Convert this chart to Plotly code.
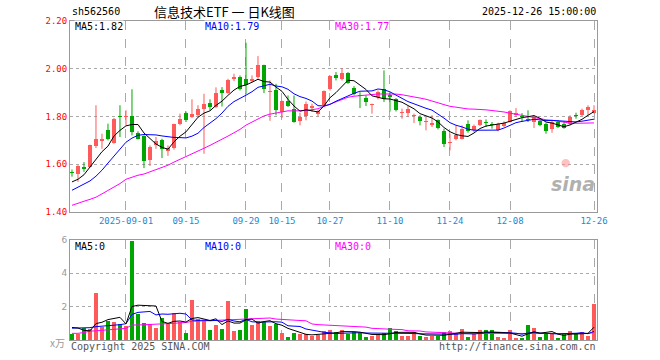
import plotly.graph_objects as go

# ---------------- data ----------------
dates = [
    "2025-08-19", "2025-08-20", "2025-08-21", "2025-08-22", "2025-08-25", "2025-08-26", "2025-08-27", "2025-08-28", "2025-08-29",
    "2025-09-01", "2025-09-02", "2025-09-03", "2025-09-04", "2025-09-05", "2025-09-08", "2025-09-09", "2025-09-10", "2025-09-11",
    "2025-09-12", "2025-09-15", "2025-09-16", "2025-09-17", "2025-09-18", "2025-09-19", "2025-09-22", "2025-09-23", "2025-09-24",
    "2025-09-25", "2025-09-26", "2025-09-29", "2025-09-30", "2025-10-09", "2025-10-10", "2025-10-13", "2025-10-14", "2025-10-15",
    "2025-10-16", "2025-10-17", "2025-10-20", "2025-10-21", "2025-10-22", "2025-10-23", "2025-10-24", "2025-10-27", "2025-10-28",
    "2025-10-29", "2025-10-30", "2025-10-31", "2025-11-03", "2025-11-04", "2025-11-05", "2025-11-06", "2025-11-07", "2025-11-10",
    "2025-11-11", "2025-11-12", "2025-11-13", "2025-11-14", "2025-11-17", "2025-11-18", "2025-11-19", "2025-11-20", "2025-11-21",
    "2025-11-24", "2025-11-25", "2025-11-26", "2025-11-27", "2025-11-28", "2025-12-01", "2025-12-02", "2025-12-03", "2025-12-04",
    "2025-12-05", "2025-12-08", "2025-12-09", "2025-12-10", "2025-12-11", "2025-12-12", "2025-12-15", "2025-12-16", "2025-12-17",
    "2025-12-18", "2025-12-19", "2025-12-22", "2025-12-23", "2025-12-24", "2025-12-25", "2025-12-26",
]

open_ = [
    1.566, 1.561, 1.589, 1.589, 1.676, 1.697, 1.742, 1.690, 1.800,
    1.799, 1.802, 1.731, 1.717, 1.617, 1.679, 1.700, 1.654, 1.668,
    1.767, 1.816, 1.798, 1.808, 1.830, 1.856, 1.838, 1.912, 1.900,
    1.955, 1.965, 1.958, 1.947, 1.965, 2.014, 1.902, 1.909, 1.818,
    1.865, 1.833, 1.780, 1.802, 1.835, 1.812, 1.847, 1.914, 1.972,
    1.958, 1.983, 1.919, 1.891, 1.877, 1.849, 1.881, 1.914, 1.888,
    1.872, 1.814, 1.816, 1.801, 1.800, 1.776, 1.763, 1.784, 1.738,
    1.689, 1.704, 1.707, 1.770, 1.742, 1.763, 1.775, 1.767, 1.742,
    1.760, 1.777, 1.808, 1.801, 1.788, 1.777, 1.780, 1.767, 1.749,
    1.777, 1.767, 1.767, 1.806, 1.808, 1.826, 1.816,
]
high = [
    1.578, 1.596, 1.609, 1.682, 1.847, 1.728, 1.770, 1.794, 1.847,
    1.826, 1.914, 1.738, 1.721, 1.679, 1.714, 1.707, 1.679, 1.770,
    1.812, 1.821, 1.872, 1.847, 1.895, 1.872, 1.922, 1.923, 1.958,
    1.979, 1.972, 2.109, 1.972, 2.053, 2.017, 1.951, 1.937, 1.867,
    1.888, 1.888, 1.816, 1.863, 1.854, 1.828, 1.909, 1.972, 1.986,
    2.003, 1.986, 1.927, 1.902, 1.888, 1.854, 1.909, 1.993, 1.902,
    1.877, 1.833, 1.844, 1.812, 1.805, 1.798, 1.805, 1.788, 1.749,
    1.728, 1.763, 1.763, 1.784, 1.766, 1.788, 1.788, 1.777, 1.774,
    1.780, 1.826, 1.835, 1.814, 1.826, 1.802, 1.784, 1.774, 1.784,
    1.784, 1.780, 1.805, 1.816, 1.833, 1.847, 1.847,
]
low = [
    1.548, 1.526, 1.568, 1.586, 1.668, 1.665, 1.700, 1.686, 1.714,
    1.763, 1.721, 1.704, 1.584, 1.593, 1.665, 1.626, 1.635, 1.661,
    1.763, 1.777, 1.794, 1.802, 1.644, 1.826, 1.835, 1.842, 1.895,
    1.948, 1.909, 1.895, 1.944, 1.958, 1.898, 1.782, 1.805, 1.794,
    1.840, 1.774, 1.763, 1.784, 1.819, 1.800, 1.840, 1.909, 1.951,
    1.951, 1.937, 1.888, 1.835, 1.844, 1.812, 1.872, 1.861, 1.821,
    1.821, 1.791, 1.798, 1.773, 1.763, 1.742, 1.756, 1.746, 1.672,
    1.658, 1.700, 1.704, 1.732, 1.735, 1.760, 1.756, 1.749, 1.738,
    1.756, 1.774, 1.798, 1.777, 1.777, 1.752, 1.759, 1.728, 1.732,
    1.752, 1.749, 1.763, 1.791, 1.802, 1.805, 1.812,
]
close = [
    1.562, 1.591, 1.579, 1.679, 1.707, 1.707, 1.707, 1.791, 1.797,
    1.802, 1.735, 1.707, 1.614, 1.672, 1.696, 1.665, 1.668, 1.767,
    1.791, 1.787, 1.809, 1.830, 1.854, 1.839, 1.900, 1.898, 1.951,
    1.965, 1.916, 1.930, 1.955, 2.014, 1.916, 1.906, 1.826, 1.865,
    1.846, 1.777, 1.798, 1.854, 1.844, 1.821, 1.905, 1.969, 1.961,
    1.983, 1.941, 1.895, 1.886, 1.861, 1.850, 1.902, 1.872, 1.881,
    1.828, 1.816, 1.833, 1.803, 1.780, 1.778, 1.774, 1.752, 1.686,
    1.691, 1.721, 1.746, 1.738, 1.759, 1.784, 1.773, 1.765, 1.767,
    1.773, 1.821, 1.816, 1.799, 1.786, 1.798, 1.763, 1.738, 1.777,
    1.756, 1.752, 1.800, 1.804, 1.829, 1.840, 1.829,
]
volume = [  # x 10,000
    0.36, 0.36, 0.72, 0.66, 2.82, 0.76, 1.16, 1.10, 0.96,
    0.86, 5.96, 1.56, 1.00, 0.96, 0.72, 1.32, 1.00, 1.60,
    1.06, 0.40, 2.40, 1.26, 1.20, 0.60, 0.90, 0.66, 2.36,
    0.56, 0.60, 1.86, 0.90, 1.12, 1.06, 0.86, 0.96, 0.42,
    0.18, 0.40, 0.36, 0.34, 0.26, 0.32, 0.52, 0.58, 0.46,
    0.63, 0.37, 0.46, 0.43, 0.17, 0.23, 0.35, 0.41, 0.73,
    0.55, 0.26, 0.26, 0.50, 0.26, 0.20, 0.26, 0.22, 0.48,
    0.55, 0.42, 0.67, 0.18, 0.36, 0.60, 0.60, 0.60, 0.18,
    0.12, 0.60, 0.12, 0.12, 0.90, 0.73, 0.18, 0.36, 0.36,
    0.12, 0.36, 0.55, 0.36, 0.48, 0.26, 2.18,
]

# moving-average values at the start of the window (history before the first bar)
ma5_head = [1.526, 1.537, 1.556, 1.589]
ma10_head = [1.491, 1.503, 1.515, 1.530, 1.550, 1.575, 1.605, 1.635, 1.665]
ma30_head = [1.428, 1.435, 1.445, 1.453, 1.462, 1.476, 1.490, 1.505, 1.519, 1.537,
             1.547, 1.554, 1.559, 1.568, 1.576, 1.584, 1.596, 1.609, 1.620, 1.632,
             1.643, 1.655, 1.667, 1.679, 1.691, 1.704, 1.718, 1.732, 1.746]
vma5_head = [0.75, 0.72, 0.58, 0.55]
vma10_head = [0.71, 0.71, 0.72, 0.74, 0.80, 0.82, 0.85, 0.88, 0.92]
vma30_head = [0.40, 0.40, 0.45, 0.53, 0.55, 0.57, 0.62, 0.65, 0.67, 0.70,
              0.90, 0.90, 0.91, 0.93, 0.95, 0.95, 0.97, 1.00, 1.03, 1.05,
              1.12, 1.13, 1.14, 1.16, 1.18, 1.19, 1.21, 1.22, 1.24]

tick_dates = ["2025-09-01", "2025-09-15", "2025-09-29", "2025-10-15", "2025-10-27",
              "2025-11-10", "2025-11-24", "2025-12-08", "2025-12-26"]
tick_text = ["2025-09-01", "09-15", "09-29", "10-15", "10-27", "11-10", "11-24", "12-08", "12-26"]
price_ticks = [1.40, 1.60, 1.80, 2.00, 2.20]
vol_ticks = [0, 2, 4, 6]


def moving_average(values, n, head):
    out = list(head)
    for i in range(len(head), len(values)):
        out.append(sum(values[i - n + 1:i + 1]) / n)
    return out


ma5 = moving_average(close, 5, ma5_head)
ma10 = moving_average(close, 10, ma10_head)
ma30 = moving_average(close, 30, ma30_head)
vma5 = moving_average(volume, 5, vma5_head)
vma10 = moving_average(volume, 10, vma10_head)
vma30 = moving_average(volume, 30, vma30_head)

# ---------------- styling ----------------
UP = "#ff5a5a"
DOWN = "#00a600"
GRID = "#aaaaaa"
FRAME = "#9a9a9a"
MONO = "DejaVu Sans Mono"

up = [c >= o for o, c in zip(open_, close)]
body_base = [min(o, c) for o, c in zip(open_, close)]
body_h = [max(abs(c - o), 0.0035) for o, c in zip(open_, close)]
bar_colors = [UP if u else DOWN for u in up]

fig = go.Figure()


def wick_xy(flag):
    xs, ys = [], []
    for d, h, l, u in zip(dates, high, low, up):
        if u == flag:
            xs += [d, d, None]
            ys += [l, h, None]
    return xs, ys


for flag, col in ((True, UP), (False, DOWN)):
    wx, wy = wick_xy(flag)
    fig.add_trace(go.Scatter(x=wx, y=wy, mode="lines", line=dict(color=col, width=1),
                             hoverinfo="skip", showlegend=False, xaxis="x", yaxis="y"))

fig.add_trace(go.Bar(x=dates, y=body_h, base=body_base, marker=dict(color=bar_colors, line=dict(width=0)),
                     width=0.78, showlegend=False, hoverinfo="skip", xaxis="x", yaxis="y"))

for vals, col in ((ma30, "#ff00ff"), (ma10, "#0000ff"), (ma5, "#000000")):
    fig.add_trace(go.Scatter(x=dates, y=vals, mode="lines", line=dict(color=col, width=1),
                             hoverinfo="skip", showlegend=False, xaxis="x", yaxis="y"))

fig.add_trace(go.Bar(x=dates, y=volume, marker=dict(color=bar_colors, line=dict(width=0)),
                     width=0.78, showlegend=False, hoverinfo="skip", xaxis="x2", yaxis="y2"))
for vals, col in ((vma30, "#ff00ff"), (vma10, "#0000ff"), (vma5, "#000000")):
    fig.add_trace(go.Scatter(x=dates, y=vals, mode="lines", line=dict(color=col, width=1),
                             hoverinfo="skip", showlegend=False, xaxis="x2", yaxis="y2"))

# layout geometry (pixels -> paper)
W, H = 660, 360
ML, MR, MT, MB = 70, 63, 21, 20
PW, PH = W - ML - MR, H - MT - MB


def px(xp):
    return (xp - ML) / PW


def py(yp):
    return (H - MB - yp) / PH


xr = [-0.33, len(dates) - 0.5]
common_x = dict(type="category", categoryorder="array", categoryarray=dates, range=xr,
                showgrid=True, gridcolor=GRID, griddash="dash", gridwidth=1,
                tickmode="array", tickvals=tick_dates, ticks="",
                showline=True, mirror=True, linecolor=FRAME, linewidth=1, zeroline=False,
                fixedrange=True)

fig.update_layout(
    width=W, height=H,
    margin=dict(l=ML, r=MR, t=MT, b=MB, autoexpand=False),
    paper_bgcolor="white", plot_bgcolor="white",
    barmode="overlay", bargap=0,
    xaxis=dict(common_x, domain=[0, 1], anchor="y", ticktext=tick_text,
               tickfont=dict(family=MONO, size=9, color="#1a8ad4")),
    xaxis2=dict(common_x, domain=[0, 1], anchor="y2", showticklabels=False),
    yaxis=dict(domain=[py(212), 1], range=[1.40, 2.20], tickmode="array", tickvals=price_ticks,
               ticktext=["%.2f" % v for v in price_ticks],
               tickfont=dict(family=MONO, size=9, color="#ff0000"),
               showgrid=True, gridcolor=GRID, griddash="dot", gridwidth=1, zeroline=False,
               showline=True, mirror=True, linecolor=FRAME, linewidth=1, ticks="", automargin=False,
               fixedrange=True),
    yaxis2=dict(domain=[0, py(240)], range=[0, 6], tickmode="array", tickvals=vol_ticks,
                ticktext=["", "2", "4", "6"],
                tickfont=dict(family="DejaVu Sans", size=9, color="#999999"),
                showgrid=True, gridcolor=GRID, griddash="dot", gridwidth=1, zeroline=False,
                showline=True, mirror=True, linecolor=FRAME, linewidth=1, ticks="", automargin=False,
                fixedrange=True),
    showlegend=False,
    hovermode=False,
)


def note(text, x, y, color="#000000", size=10, family=MONO, xanchor="left", **kw):
    fig.add_annotation(text=text, x=px(x), y=py(y), xref="paper", yref="paper",
                       xanchor=xanchor, yanchor="middle", showarrow=False,
                       font=dict(family=family, size=size, color=color), **kw)


note("sh562560", 70, 12)
note("信息技术ETF 一 日K线图", 224, 12, size=13, family="Noto Sans CJK SC", xanchor="center", borderpad=0)
note("2025-12-26 15:00:00", 598, 12, xanchor="right")
label_box = dict(bgcolor="white", borderpad=0)
note("MA5:%.2f" % ma5[-1], 74, 27, **label_box)
note("MA10:%.2f" % ma10[-1], 204, 27, color="#0000ff", **label_box)
note("MA30:%.2f" % ma30[-1], 334, 27, color="#ff00ff", **label_box)
note("MA5:0", 74, 246, **label_box)
note("MA10:0", 204, 246, color="#0000ff", **label_box)
note("MA30:0", 334, 246, color="#ff00ff", **label_box)
note("x万", 67, 342, color="#999999", size=10, family="Noto Sans CJK SC", xanchor="right")
note("Copyright 2025 SINA.COM", 69, 346, color="#555555")
note("http://finance.sina.com.cn", 598, 346, color="#555555", xanchor="right")
note("<b><i>sina</i></b>", 573, 184, color="rgba(150,150,150,0.75)", size=19, family="DejaVu Sans",
     xanchor="center")
note("●", 566, 162, color="rgba(255,140,140,0.55)", size=11, family="DejaVu Sans", xanchor="center")

fig.write_html("out.html", config={"displayModeBar": False, "staticPlot": True},
               post_script="document.body.style.margin='0';")
